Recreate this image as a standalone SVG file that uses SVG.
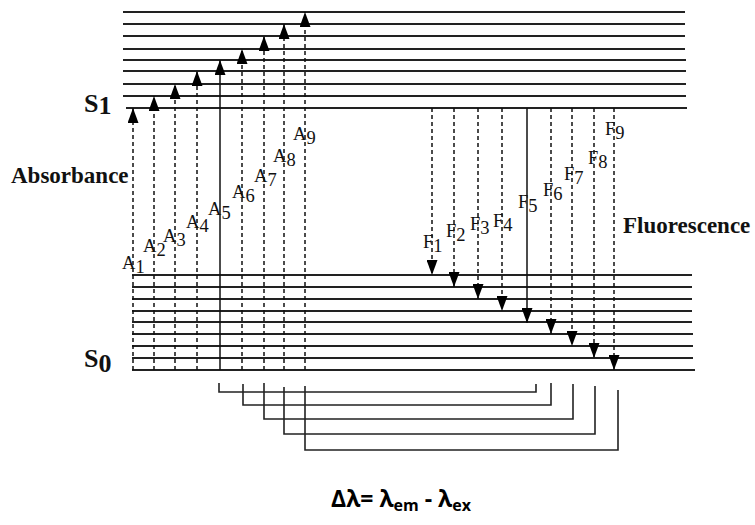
<svg xmlns="http://www.w3.org/2000/svg" width="755" height="525" viewBox="0 0 755 525">
<style>
.lvl{stroke:#222;stroke-width:1.8;fill:none}
.arr{stroke:#111;stroke-width:1.5;fill:none}
.dash{stroke-dasharray:4 3}
.lbl{font-family:"Liberation Serif","Times New Roman",serif;font-size:18.5px;fill:#111}
.big{font-family:"Liberation Serif","Times New Roman",serif;font-weight:bold;fill:#111}
.brk{stroke:#222;stroke-width:1.6;fill:none}
.eq{font-family:"Open Sans","Liberation Sans",sans-serif;font-weight:bold;font-size:23px;fill:#000}
</style>
<defs>
<marker id="ah" viewBox="0 -5.5 15 11" refX="15" refY="0" markerWidth="15" markerHeight="11" markerUnits="userSpaceOnUse" orient="auto">
<path d="M0,-5.5 L15,0 L0,5.5 Z" fill="#000"/>
</marker>
</defs>
<rect width="755" height="525" fill="#fff"/>
<g id="S1-levels">
<line class="lvl" x1="123" y1="12" x2="685" y2="12"/>
<line class="lvl" x1="123" y1="24" x2="685" y2="24"/>
<line class="lvl" x1="123" y1="36" x2="685" y2="36"/>
<line class="lvl" x1="123" y1="49" x2="685" y2="49"/>
<line class="lvl" x1="123" y1="60" x2="686" y2="60"/>
<line class="lvl" x1="123" y1="71" x2="686" y2="71"/>
<line class="lvl" x1="123" y1="84" x2="686" y2="84"/>
<line class="lvl" x1="123" y1="96" x2="686" y2="96"/>
<line class="lvl" x1="126" y1="108" x2="687" y2="108"/>
</g>
<g id="S0-levels">
<line class="lvl" x1="132" y1="275" x2="692" y2="275"/>
<line class="lvl" x1="132" y1="287" x2="692" y2="287"/>
<line class="lvl" x1="132" y1="299" x2="692" y2="299"/>
<line class="lvl" x1="132" y1="311" x2="692" y2="311"/>
<line class="lvl" x1="132" y1="322" x2="692" y2="322"/>
<line class="lvl" x1="132" y1="334" x2="693" y2="334"/>
<line class="lvl" x1="132" y1="346" x2="693" y2="346"/>
<line class="lvl" x1="132" y1="358" x2="693" y2="358"/>
<line class="lvl" x1="132" y1="370" x2="695" y2="370"/>
</g>
<g id="connectors">
<line class="arr dash" x1="133" y1="370" x2="133" y2="108" marker-end="url(#ah)"/>
<line class="arr dash" x1="154" y1="370" x2="154" y2="96" marker-end="url(#ah)"/>
<line class="arr dash" x1="175" y1="370" x2="175" y2="84" marker-end="url(#ah)"/>
<line class="arr dash" x1="197" y1="370" x2="197" y2="71" marker-end="url(#ah)"/>
<line class="arr" x1="220" y1="370" x2="220" y2="60" marker-end="url(#ah)"/>
<line class="arr dash" x1="242" y1="370" x2="242" y2="49" marker-end="url(#ah)"/>
<line class="arr dash" x1="264" y1="370" x2="264" y2="36" marker-end="url(#ah)"/>
<line class="arr dash" x1="284" y1="370" x2="284" y2="24" marker-end="url(#ah)"/>
<line class="arr dash" x1="305" y1="370" x2="305" y2="12" marker-end="url(#ah)"/>
<line class="arr dash" x1="432" y1="108" x2="432" y2="275" marker-end="url(#ah)"/>
<line class="arr dash" x1="454" y1="108" x2="454" y2="287" marker-end="url(#ah)"/>
<line class="arr dash" x1="478" y1="108" x2="478" y2="299" marker-end="url(#ah)"/>
<line class="arr dash" x1="502" y1="108" x2="502" y2="311" marker-end="url(#ah)"/>
<line class="arr" x1="527" y1="108" x2="527" y2="323" marker-end="url(#ah)"/>
<line class="arr dash" x1="551" y1="108" x2="551" y2="334" marker-end="url(#ah)"/>
<line class="arr dash" x1="572" y1="108" x2="572" y2="346" marker-end="url(#ah)"/>
<line class="arr dash" x1="594" y1="108" x2="594" y2="358" marker-end="url(#ah)"/>
<line class="arr dash" x1="614" y1="108" x2="614" y2="370" marker-end="url(#ah)"/>
<polyline class="brk" points="219,383 219,392 536,392 536,384"/>
<polyline class="brk" points="243,384 243,405 551,405 551,383"/>
<polyline class="brk" points="264,383 264,419 573,419 573,384"/>
<polyline class="brk" points="284,387 284,434 595,434 595,386"/>
<polyline class="brk" points="305,386 305,450 618,450 618,390"/>
</g>
<g id="A-labels" class="lbl">
<text x="122" y="269">A<tspan dy="4">1</tspan></text>
<text x="143" y="252">A<tspan dy="4">2</tspan></text>
<text x="163" y="242">A<tspan dy="4">3</tspan></text>
<text x="186" y="228">A<tspan dy="4">4</tspan></text>
<text x="208" y="215">A<tspan dy="4">5</tspan></text>
<text x="232" y="198">A<tspan dy="4">6</tspan></text>
<text x="254" y="182">A<tspan dy="4">7</tspan></text>
<text x="273" y="162">A<tspan dy="4">8</tspan></text>
<text x="293" y="140">A<tspan dy="4">9</tspan></text>
</g>
<g id="F-labels" class="lbl">
<text x="423" y="248">F<tspan dy="4">1</tspan></text>
<text x="446" y="237">F<tspan dy="4">2</tspan></text>
<text x="470" y="230">F<tspan dy="4">3</tspan></text>
<text x="493" y="227">F<tspan dy="4">4</tspan></text>
<text x="518" y="208">F<tspan dy="4">5</tspan></text>
<text x="543" y="196">F<tspan dy="4">6</tspan></text>
<text x="564" y="180">F<tspan dy="4">7</tspan></text>
<text x="588" y="164">F<tspan dy="4">8</tspan></text>
<text x="605" y="135">F<tspan dy="4">9</tspan></text>
</g>
<g id="state-labels">
<text class="big" x="84" y="112" font-size="26">S<tspan dy="2">1</tspan></text>
<text class="big" x="84" y="367" font-size="26">S<tspan dy="5">0</tspan></text>
<text class="big" x="11" y="183" font-size="23">Absorbance</text>
<text class="big" x="623" y="233" font-size="23">Fluorescence</text>
</g>
<g id="equation">
<text class="eq" x="331" y="507">Δλ= λ<tspan font-size="16" dy="4">em</tspan><tspan dy="-4"> - λ</tspan><tspan font-size="16" dy="4">ex</tspan></text>
</g>
</svg>
